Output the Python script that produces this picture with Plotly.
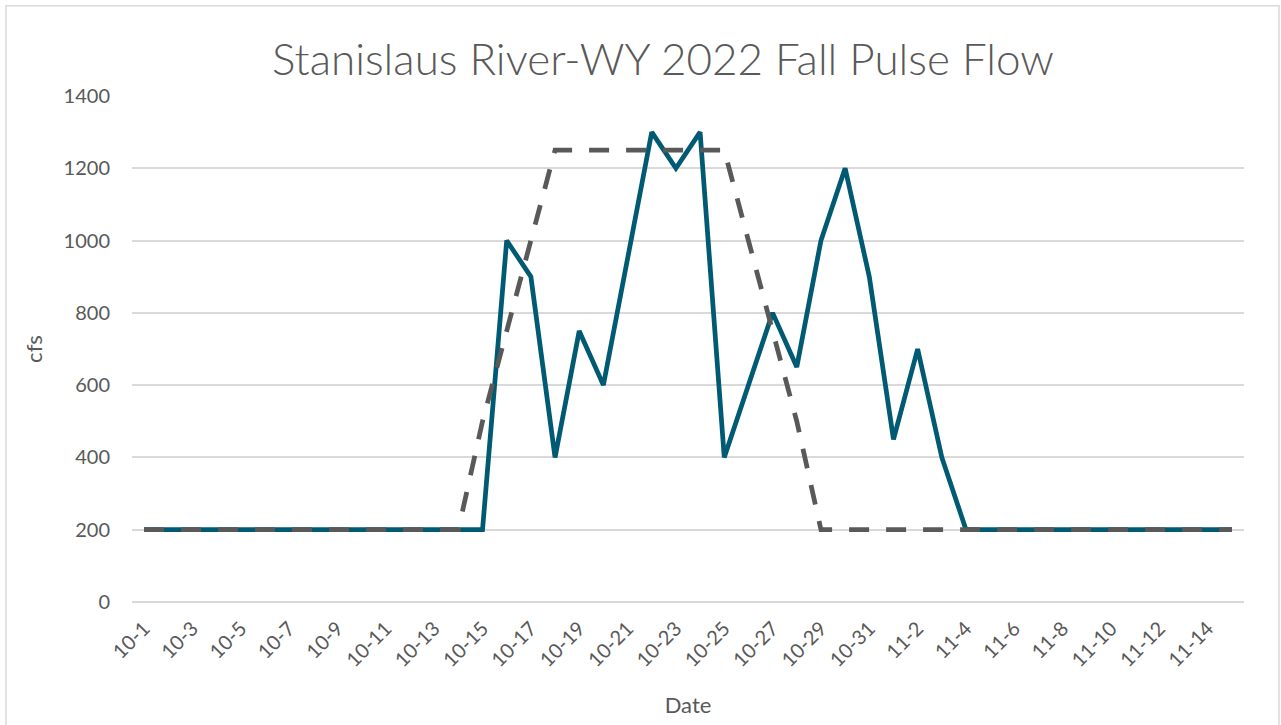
import plotly.graph_objects as go

dates = [f"10-{d}" for d in range(1, 32)] + [f"11-{d}" for d in range(1, 16)]

actual_flow = [200] * 15 + [1000, 900, 400, 750, 600, 950, 1300, 1200, 1300,
                            400, 600, 800, 650, 1000, 1200, 900,
                            450, 700, 400] + [200] * 12

planned_flow = [200] * 14 + [500, 750, 1000] + [1250] * 8 + [1000, 750, 500] + [200] * 18

tick_labels = dates[::2]

GRAY = "#595959"
GRID = "#D9D9D9"
FONT = "Lato, Open Sans, sans-serif"

fig = go.Figure()
fig.add_trace(go.Scatter(
    x=dates, y=actual_flow, mode="lines", name="Actual",
    line=dict(color="#005A73", width=4.75),
))
fig.add_trace(go.Scatter(
    x=dates, y=planned_flow, mode="lines", name="Planned",
    line=dict(color=GRAY, width=4.75, dash="20px,17px"),
))

fig.update_layout(
    width=1281, height=725,
    margin=dict(l=132, r=37, t=96, b=119.5),
    paper_bgcolor="white", plot_bgcolor="white",
    showlegend=False,
    font=dict(family=FONT, color=GRAY, size=20),
    title=dict(
        text="Stanislaus River-WY 2022 Fall Pulse Flow",
        x=663 / 1281, xanchor="center", y=1 - 60 / 725, yanchor="middle",
        font=dict(family=FONT, size=44, color=GRAY, weight=300),
    ),
    xaxis=dict(
        type="category", categoryorder="array", categoryarray=dates,
        range=[-0.5, len(dates) - 0.5],
        tickmode="array", tickvals=tick_labels, ticktext=tick_labels,
        tickangle=-45, tickfont=dict(size=20, color=GRAY),
        ticks="outside", ticklen=6, tickcolor="rgba(0,0,0,0)",
        showgrid=False, showline=False, zeroline=False,
        title=dict(text="Date", font=dict(size=22, color=GRAY), standoff=27),
    ),
    yaxis=dict(
        range=[0, 1400], tickmode="linear", tick0=0, dtick=200,
        tickfont=dict(size=20, color=GRAY),
        ticks="outside", ticklen=17, tickcolor="rgba(0,0,0,0)",
        showgrid=True, gridcolor=GRID, gridwidth=1.5,
        zeroline=True, zerolinecolor=GRID, zerolinewidth=1.5,
        showline=False,
        title=dict(text="cfs", font=dict(size=22, color=GRAY), standoff=14),
    ),
    shapes=[dict(
        type="rect", xref="paper", yref="paper",
        x0=(6 - 132) / 1112, x1=(1279 - 132) / 1112,
        y0=(605.5 - 740) / 509.5, y1=(605.5 - 5) / 509.5,
        line=dict(color=GRID, width=1.5), fillcolor="rgba(0,0,0,0)",
        layer="below",
    )],
)

fig.write_html(
    "out.html",
    config={"displayModeBar": False},
    post_script="document.body.style.margin='0';document.body.style.overflow='hidden';",
)
